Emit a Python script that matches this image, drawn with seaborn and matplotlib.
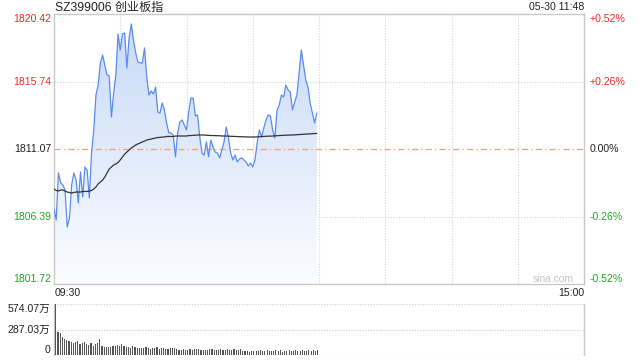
import numpy as np
import pandas as pd
import matplotlib
matplotlib.use("Agg")
import matplotlib.pyplot as plt
import seaborn as sns
from matplotlib.colors import LinearSegmentedColormap

# ---------------- data ----------------
minutes = list(range(120))  # minutes since 09:30 (morning session up to 11:29)
price = [
    1806.91, 1806.15, 1809.41, 1808.72, 1808.58, 1808.23, 1805.67, 1806.29, 1808.58, 1809.41,
    1808.92, 1807.33, 1809.48, 1807.75, 1809.82, 1809.62, 1807.68, 1810.79, 1812.39, 1814.81,
    1815.50, 1817.03, 1817.58, 1816.89, 1816.20, 1816.13, 1813.29, 1814.95, 1816.20, 1819.04,
    1817.93, 1819.04, 1819.10, 1816.68, 1818.76, 1819.73, 1818.62, 1817.72, 1817.10, 1817.03,
    1817.03, 1818.07, 1816.06, 1814.81, 1815.09, 1814.88, 1815.36, 1813.63, 1813.56, 1814.26,
    1813.77, 1812.87, 1812.18, 1812.18, 1812.04, 1810.52, 1812.18, 1812.94, 1813.08, 1812.73,
    1812.39, 1813.63, 1814.60, 1814.60, 1813.36, 1813.43, 1811.90, 1810.79, 1810.65, 1811.56,
    1810.52, 1811.69, 1811.21, 1810.86, 1810.79, 1810.45, 1811.00, 1811.56, 1812.59, 1811.83,
    1810.79, 1810.31, 1810.65, 1810.17, 1810.38, 1810.45, 1810.31, 1810.17, 1809.89, 1810.10,
    1809.82, 1810.31, 1811.49, 1812.39, 1811.90, 1812.52, 1813.08, 1813.43, 1813.36, 1812.39,
    1811.83, 1813.77, 1814.12, 1814.81, 1814.67, 1815.50, 1815.16, 1815.02, 1813.77, 1814.33,
    1814.81, 1816.33, 1817.93, 1816.89, 1815.85, 1815.36, 1814.26, 1813.56, 1812.87, 1813.56,
]
avg_price = [
    1808.30, 1808.20, 1808.16, 1808.23, 1808.23, 1808.16, 1808.09, 1808.06, 1808.02, 1808.06,
    1808.09, 1808.09, 1808.09, 1808.13, 1808.13, 1808.13, 1808.16, 1808.20, 1808.30, 1808.44,
    1808.65, 1808.78, 1808.92, 1809.13, 1809.41, 1809.69, 1809.82, 1809.96, 1810.03, 1810.14,
    1810.31, 1810.52, 1810.72, 1810.86, 1811.00, 1811.14, 1811.24, 1811.35, 1811.42, 1811.49,
    1811.56, 1811.62, 1811.69, 1811.73, 1811.76, 1811.80, 1811.83, 1811.87, 1811.87, 1811.90,
    1811.90, 1811.94, 1811.94, 1811.94, 1811.94, 1811.97, 1811.97, 1811.97, 1811.97, 1811.97,
    1811.97, 1812.00, 1812.00, 1812.02, 1812.02, 1812.04, 1812.04, 1812.04, 1812.04, 1812.02,
    1812.02, 1812.00, 1812.00, 1812.00, 1811.99, 1811.99, 1811.97, 1811.97, 1811.97, 1811.96,
    1811.95, 1811.94, 1811.94, 1811.93, 1811.92, 1811.92, 1811.91, 1811.91, 1811.90, 1811.90,
    1811.90, 1811.90, 1811.91, 1811.92, 1811.93, 1811.94, 1811.95, 1811.96, 1811.96, 1811.97,
    1811.98, 1811.99, 1812.00, 1812.01, 1812.02, 1812.03, 1812.03, 1812.04, 1812.04, 1812.05,
    1812.06, 1812.07, 1812.08, 1812.09, 1812.10, 1812.11, 1812.12, 1812.13, 1812.14, 1812.15,
]
volume = [  # 万
    574, 264, 253, 208, 185, 170, 159, 147, 140, 147,
    155, 128, 140, 151, 121, 110, 140, 102, 128, 140,
    178, 102, 94, 94, 90, 94, 98, 102, 110, 106,
    120, 98, 86, 90, 83, 102, 86, 79, 83, 75,
    79, 90, 75, 72, 79, 75, 86, 72, 75, 79,
    68, 72, 75, 79, 83, 64, 60, 60, 64, 57,
    60, 64, 57, 68, 72, 64, 60, 57, 60, 57,
    64, 68, 60, 60, 57, 64, 60, 57, 64, 57,
    60, 68, 53, 57, 64, 45, 49, 42, 38, 42,
    45, 49, 45, 53, 49, 45, 53, 49, 45, 42,
    53, 49, 57, 38, 45, 49, 53, 42, 49, 53,
    45, 42, 57, 49, 45, 60, 49, 53, 45, 57,
]
prev_close = 1811.07
price_ticks = [1820.42, 1815.74, 1811.07, 1806.39, 1801.72]
pct_ticks = ["+0.52%", "+0.26%", "0.00%", "-0.26%", "-0.52%"]
vol_max = 574.07
vol_ticks = [574.07, 287.03, 0]
vol_tick_labels = ["574.07万", "287.03万", "0"]
title = "SZ399006 创业板指"
stamp = "05-30 11:48"
time_labels = ["09:30", "15:00"]

# ---------------- style ----------------
sns.set_theme(style="white")
plt.rcParams["font.family"] = ["Liberation Sans", "Noto Sans CJK SC", "DejaVu Sans"]

RED = "#ee2a2a"
GREEN = "#1faa1f"
DARK = "#222222"
FRAME = "#c8c8c8"
GRID = "#d2d2d2"

W, H = 640, 360
fig = plt.figure(figsize=(6.4, 3.6), dpi=100)
ax = fig.add_axes([54 / W, 1 - 284 / H, 530 / W, 270 / H])
axv = fig.add_axes([54 / W, 1 - 355 / H, 530 / W, 51 / H])

df = pd.DataFrame({"minute": minutes, "price": price, "avg": avg_price, "volume": volume})

ymin, ymax = price_ticks[-1], price_ticks[0]

# gradient area under price line
poly = ax.fill_between(df["minute"], df["price"], ymin, color="none", lw=0)
cmap = LinearSegmentedColormap.from_list("g", ["#fbfcff", "#c6d9f7"])
grad = np.linspace(0, 1, 256).reshape(-1, 1)
im = ax.imshow(grad, extent=[0, 240, ymin, ymax], origin="lower", aspect="auto",
               cmap=cmap, zorder=1)
im.set_clip_path(poly.get_paths()[0], transform=ax.transData)

# grid
for gx in range(30, 240, 30):
    ax.axvline(gx, color=GRID, lw=0.8, ls=(0, (1, 1.5)), zorder=0.5)
for gy in [price_ticks[1], price_ticks[3]]:
    ax.axhline(gy, color=GRID, lw=0.8, ls=(0, (1, 1.5)), zorder=0.5)
ax.axhline(prev_close, color="#f0a07a", lw=0.9, ls=(0, (5, 2.5, 1, 2.5)), zorder=2)

sns.lineplot(data=df, x="minute", y="price", ax=ax, color="#5a8cf0", lw=0.9, zorder=3)
sns.lineplot(data=df, x="minute", y="avg", ax=ax, color="#333333", lw=0.9, zorder=4)

ax.set_xlim(0, 240)
ax.set_ylim(ymin, ymax)
ax.set_xticks([]); ax.set_yticks([])
ax.set_xlabel(""); ax.set_ylabel("")
for s in ax.spines.values():
    s.set_color(FRAME); s.set_linewidth(1)

# price labels
tr = ax.get_yaxis_transform()
cols = [RED, RED, DARK, GREEN, GREEN]
vas = ["top", "center", "center", "center", "bottom"]
for v, lab, c, va in zip(price_ticks, pct_ticks, cols, vas):
    ax.text(-3 / 530, v, f"{v:.2f}", transform=tr, ha="right", va=va,
            color=c, fontsize=7.6)
    ax.text(1 + 6 / 530, v, lab, transform=tr, ha="left", va=va,
            color=c, fontsize=7.6)

fig.text(55 / W, 1 - 7.5 / H, title, ha="left", va="center", fontsize=8.7, color=DARK)
fig.text(584 / W, 1 - 7.5 / H, stamp, ha="right", va="center", fontsize=7.6, color=DARK)
fig.text(55 / W, 1 - 293.5 / H, time_labels[0], ha="left", va="center", fontsize=7.6, color=DARK)
fig.text(584 / W, 1 - 293.5 / H, time_labels[1], ha="right", va="center", fontsize=7.6, color=DARK)
fig.text(574 / W, 1 - 279 / H, "sina.com", ha="right", va="center", fontsize=7.4, color="#c4c4c4")

# volume panel
sns.barplot(data=df, x="minute", y="volume", ax=axv, native_scale=True,
            color="#555555", width=0.5, errorbar=None, saturation=1, zorder=3,
            linewidth=0, edgecolor="none")
for p in axv.patches:
    p.set_antialiased(False)
    p.set_snap(True)
axv.set_xlim(-0.8, 240)
axv.set_ylim(0, vol_max)
axv.set_xticks([]); axv.set_yticks([])
axv.set_xlabel(""); axv.set_ylabel("")
for k, s in axv.spines.items():
    s.set_color(FRAME); s.set_linewidth(1)
axv.spines["top"].set_visible(False)
axv.spines["bottom"].set_visible(False)
axv.axhline(vol_max, color=GRID, lw=0.9, ls=(0, (1, 1.2)), zorder=1)
axv.axhline(vol_ticks[1], color=GRID, lw=0.9, ls=(0, (1, 1.2)), zorder=1)
axv.axhline(0, color=GRID, lw=0.9, ls=(0, (1, 1.2)), zorder=1)

trv = axv.get_yaxis_transform()
for v, lab, va in zip(vol_ticks, vol_tick_labels, ["top", "center", "bottom"]):
    axv.text(-4 / 530, v, lab, transform=trv, ha="right", va=va, fontsize=7.6, color=DARK)

fig.savefig("out.png", dpi=100)
